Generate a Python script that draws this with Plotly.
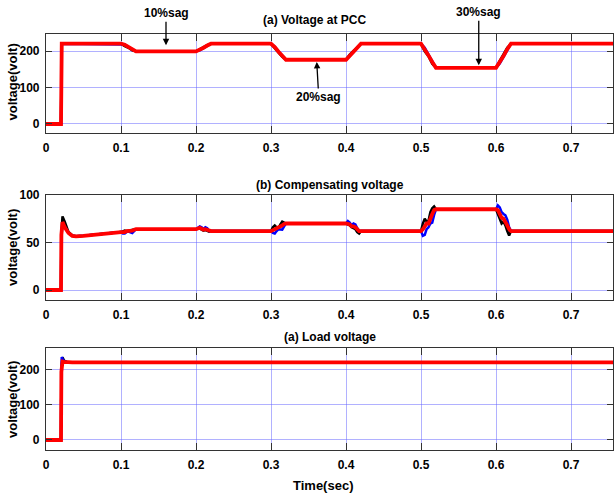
import plotly.graph_objects as go

# ---------------- data ----------------
# (a) Voltage at PCC
t_pcc = [0, 0.02, 0.021, 0.1, 0.105, 0.11, 0.115, 0.12, 0.2, 0.205, 0.21, 0.215, 0.22,
         0.3, 0.305, 0.31, 0.315, 0.32, 0.4, 0.405, 0.41, 0.415, 0.42,
         0.5, 0.505, 0.51, 0.515, 0.52, 0.6, 0.605, 0.61, 0.615, 0.62, 0.756]
pcc_black = [0, 0, 220, 220, 213, 209, 202, 199, 199, 205, 210, 216, 220,
             220, 208, 196, 184, 176, 176, 190, 200, 212, 220,
             220, 199, 186, 165, 154, 154, 173, 191, 209, 220, 220]
pcc_blue = [0, 0, 220, 220, 218, 211, 206, 199, 199, 202, 208, 214, 220,
            220, 212, 199, 188, 176, 176, 186, 197, 209, 220,
            220, 209, 190, 173, 154, 154, 166, 184, 203, 220, 220]
pcc_red = [0, 0, 220, 220, 217, 210, 205, 199, 199, 203, 209, 215, 220,
           220, 211, 198, 187, 176, 176, 187, 198, 210, 220,
           220, 206, 188, 170, 154, 154, 168, 186, 205, 220, 220]

# (b) Compensating voltage
t_comp = [0, 0.02, 0.0205, 0.022, 0.025, 0.03, 0.035, 0.04, 0.05, 0.06, 0.08,
          0.1, 0.1025, 0.105, 0.1075, 0.11, 0.1125, 0.115, 0.1175, 0.12,
          0.2, 0.2025, 0.205, 0.2075, 0.21, 0.2125, 0.215, 0.2175, 0.22,
          0.3, 0.3025, 0.305, 0.3075, 0.31, 0.3125, 0.315, 0.3175, 0.32,
          0.4, 0.4025, 0.405, 0.4075, 0.41, 0.4125, 0.415, 0.4175, 0.42,
          0.5, 0.5025, 0.505, 0.5075, 0.51, 0.5125, 0.515, 0.5175, 0.52,
          0.6, 0.6025, 0.605, 0.6075, 0.61, 0.6125, 0.615, 0.6175, 0.62, 0.756]
comp_black = [0, 0, 60, 77.5, 72, 61, 57.5, 56.5, 57, 58, 59.5,
              61, 61.5, 62.5, 62, 62, 63, 63.5, 64, 64,
              64, 64.5, 65, 63.5, 62.5, 63, 62, 61.5, 62,
              62, 66, 68, 66, 65, 69, 72, 71, 70,
              70, 69, 68, 66, 65, 64, 61, 59.5, 62,
              62, 70, 75, 72, 73, 82, 86, 88, 85,
              85, 80, 74, 70, 72, 68, 62, 57.5, 62, 62]
comp_blue = [0, 0, 55, 70, 67, 60, 57, 56.5, 57, 58, 59.5,
             61, 59.5, 59.4, 61, 61.5, 60.5, 60, 62, 64,
             64, 66, 67, 66, 64, 66, 65, 62, 62,
             62, 60, 59.4, 62, 64, 63.8, 63.6, 67, 70,
             70, 72.6, 71, 68, 70, 69, 65, 62, 62,
             62, 57, 58, 64, 66, 70, 71, 79, 85,
             85, 89, 87, 82, 80, 78.6, 74, 66, 62, 62]
comp_red = [0, 0, 58, 71.5, 66, 60, 57, 56.5, 57, 58, 59.5,
            61, 61, 61, 62, 62, 62, 62.5, 63.5, 64,
            64, 65, 65.5, 64.5, 63.5, 64, 63, 62, 62,
            62, 63, 64, 65, 65, 67, 68, 69.5, 70,
            70, 70, 69, 67, 67, 66, 63.5, 62, 62,
            62, 64, 67, 70, 70, 76, 80, 84, 85,
            85, 84, 80, 76, 75, 72, 68, 64, 62, 62]

# (c) Load voltage
t_load = [0, 0.02, 0.0205, 0.021, 0.022, 0.024, 0.028, 0.035, 0.1, 0.11, 0.12,
          0.2, 0.21, 0.22, 0.3, 0.31, 0.32, 0.4, 0.41, 0.42, 0.5, 0.51, 0.52,
          0.6, 0.61, 0.62, 0.756]
load_black = [0, 0, 200, 233, 236, 227, 223, 222, 222, 222.5, 222,
              222, 221.5, 222, 222, 222.5, 222, 222, 221.5, 222, 222, 222.5, 222,
              222, 221.5, 222, 222]
load_blue = [0, 0, 205, 237, 232, 225, 222, 222, 222, 221.5, 222,
             222, 222.5, 222, 222, 221.5, 222, 222, 222.5, 222, 222, 221.5, 222,
             222, 222.5, 222, 222]
load_red = [0, 0, 195, 218, 224, 223, 222, 222, 222, 222, 222,
            222, 222, 222, 222, 222, 222, 222, 222, 222, 222, 222, 222,
            222, 222, 222, 222]

x_ticks = [0, 0.1, 0.2, 0.3, 0.4, 0.5, 0.6, 0.7]
x_tick_labels = ["0", "0.1", "0.2", "0.3", "0.4", "0.5", "0.6", "0.7"]
y_ticks_pcc = [0, 100, 200]
y_ticks_comp = [0, 50, 100]
y_ticks_load = [0, 100, 200]

titles = ["(a) Voltage at PCC", "(b) Compensating voltage", "(a) Load voltage"]
y_label = "voltage(volt)"
x_label = "Time(sec)"

# ---------------- figure ----------------
FONT = "Liberation Sans Narrow, Arial Narrow, Liberation Sans, Arial, sans-serif"
W, H = 614, 495
fig = go.Figure()

panels = [
    (t_pcc, pcc_black, pcc_blue, pcc_red, "x", "y"),
    (t_comp, comp_black, comp_blue, comp_red, "x2", "y2"),
    (t_load, load_black, load_blue, load_red, "x3", "y3"),
]
for t, bk, bl, rd, xa, ya in panels:
    fig.add_trace(go.Scatter(x=t, y=bk, mode="lines", line=dict(color="#000000", width=2.5),
                             xaxis=xa, yaxis=ya, showlegend=False))
    fig.add_trace(go.Scatter(x=t, y=bl, mode="lines", line=dict(color="#0000ff", width=2.5),
                             xaxis=xa, yaxis=ya, showlegend=False))
    fig.add_trace(go.Scatter(x=t, y=rd, mode="lines", line=dict(color="#ff0000", width=3.8),
                             xaxis=xa, yaxis=ya, showlegend=False))

def px_dom(top, bottom):
    return [(H - bottom) / H, (H - top) / H]

xcommon = dict(range=[0, 0.756], tickvals=x_ticks, ticktext=x_tick_labels,
               showgrid=True, gridcolor="rgba(100,100,255,0.5)", gridwidth=1,
               showline=True, linecolor="#333333", linewidth=1.2, mirror="ticks",
               ticks="inside", ticklen=7, tickcolor="#333333", zeroline=False,
               tickfont=dict(family=FONT, size=12, color="#000000", weight="bold"),
               ticklabelstandoff=3, automargin=False, fixedrange=True)
ycommon = dict(showgrid=True, gridcolor="rgba(100,100,255,0.5)", gridwidth=1,
               showline=True, linecolor="#333333", linewidth=1.2, mirror="ticks",
               ticks="inside", ticklen=6, tickcolor="#333333", zeroline=False,
               tickfont=dict(family=FONT, size=12, color="#000000", weight="bold"),
               ticklabelstandoff=3, automargin=False, fixedrange=True)

fig.update_layout(
    width=W, height=H,
    margin=dict(l=46, r=1, t=0, b=0),
    paper_bgcolor="white", plot_bgcolor="white",
    xaxis=dict(**xcommon, anchor="y"),
    yaxis=dict(**ycommon, domain=px_dom(34, 133), range=[-24.7, 246.6],
               tickvals=y_ticks_pcc, anchor="x"),
    xaxis2=dict(**xcommon, anchor="y2"),
    yaxis2=dict(**ycommon, domain=px_dom(195, 300), range=[-10.5, 100],
                tickvals=y_ticks_comp, anchor="x2"),
    xaxis3=dict(**xcommon, anchor="y3"),
    yaxis3=dict(**ycommon, domain=px_dom(347.7, 450), range=[-28.6, 263.7],
                tickvals=y_ticks_load, anchor="x3"),
)

def paper_x(px):
    return (px - 46) / (W - 47)

def paper_y(py):
    return (H - py) / H

anns = []
# panel titles
for txt, cx, cy in zip(titles, [314, 330, 330], [20, 185, 337]):
    anns.append(dict(text=txt, x=paper_x(cx), y=paper_y(cy), xref="paper", yref="paper",
                     showarrow=False, xanchor="center", yanchor="middle",
                     font=dict(family=FONT, size=12, color="#000000", weight="bold")))
# y labels
for cy in [82.5, 248, 400]:
    anns.append(dict(text=y_label, x=paper_x(12), y=paper_y(cy), xref="paper", yref="paper",
                     showarrow=False, textangle=-90, xanchor="center", yanchor="middle",
                     font=dict(family=FONT, size=13, color="#000000", weight="bold")))
# x label
anns.append(dict(text=x_label, x=paper_x(323), y=paper_y(485), xref="paper", yref="paper",
                 showarrow=False, xanchor="center", yanchor="middle",
                 font=dict(family=FONT, size=13, color="#000000", weight="bold")))
# sag arrows
sag_font = dict(family=FONT, size=12, color="#000000", weight="bold")
anns.append(dict(text="10%sag", x=0.16, y=216, xref="x", yref="y", ax=0, ay=-32,
                 showarrow=True, arrowhead=2, arrowsize=1, arrowwidth=1.3,
                 arrowcolor="#000000", font=sag_font))
anns.append(dict(text="20%sag", x=0.361, y=170, xref="x", yref="y", ax=2, ay=35,
                 showarrow=True, arrowhead=2, arrowsize=1, arrowwidth=1.3,
                 arrowcolor="#000000", font=sag_font))
anns.append(dict(text="30%sag", x=0.577, y=161, xref="x", yref="y", ax=0, ay=-53,
                 showarrow=True, arrowhead=2, arrowsize=1, arrowwidth=1.3,
                 arrowcolor="#000000", font=sag_font))
fig.update_layout(annotations=anns)

fig.write_html("out.html")
